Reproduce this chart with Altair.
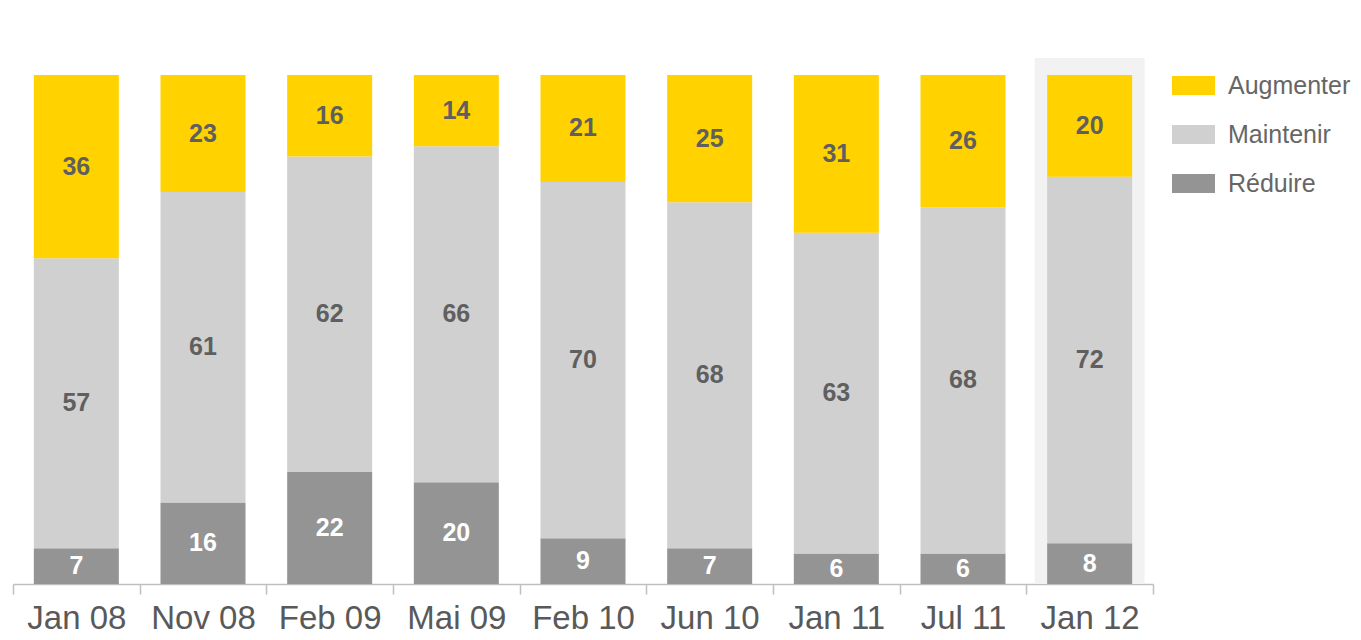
import altair as alt
import pandas as pd

periods = ["Jan 08", "Nov 08", "Feb 09", "Mai 09", "Feb 10", "Jun 10", "Jan 11", "Jul 11", "Jan 12"]
reduire = [7, 16, 22, 20, 9, 7, 6, 6, 8]
maintenir = [57, 61, 62, 66, 70, 68, 63, 68, 72]
augmenter = [36, 23, 16, 14, 21, 25, 31, 26, 20]
series_names = ["Augmenter", "Maintenir", "Réduire"]
series_colors = ["#FFD200", "#D0D0D0", "#949494"]
highlight_period = "Jan 12"

rows = []
for i, p in enumerate(periods):
    rows.append({"period": p, "series": "Réduire", "ord": 0, "value": reduire[i]})
    rows.append({"period": p, "series": "Maintenir", "ord": 1, "value": maintenir[i]})
    rows.append({"period": p, "series": "Augmenter", "ord": 2, "value": augmenter[i]})
df = pd.DataFrame(rows)

hl = pd.DataFrame({"period": [highlight_period], "lo": [0], "hi": [103.34]})

FONT = "Liberation Sans"
yscale = alt.Scale(domain=[0, 103.34], nice=False, zero=True)
xenc = alt.X(
    "period:N",
    sort=periods,
    scale=alt.Scale(paddingInner=0, paddingOuter=0),
    axis=alt.Axis(
        title=None,
        tickBand="extent",
        labelAngle=0,
        labelFont=FONT,
        labelFontSize=33,
        labelColor="#595959",
        domainColor="#BFBFBF",
        domainWidth=1.5,
        tickColor="#BFBFBF",
        tickWidth=1.5,
        tickSize=10,
        labelPadding=8,
        grid=False,
    ),
)

highlight = alt.Chart(hl).mark_bar(width={"band": 0.868}, color="#F2F2F2").encode(
    x=xenc,
    y=alt.Y("lo:Q", scale=yscale, axis=None),
    y2="hi:Q",
)

bars = alt.Chart(df).mark_bar(width={"band": 0.671}).encode(
    x=xenc,
    y=alt.Y("value:Q", stack="zero", scale=yscale, axis=None),
    color=alt.Color(
        "series:N",
        scale=alt.Scale(domain=series_names, range=series_colors),
        legend=alt.Legend(
            title=None,
            orient="none",
            legendX=1159,
            legendY=6,
            symbolType="M-1,-0.442H1V0.442H-1Z",
            symbolSize=1849,
            symbolStrokeWidth=0,
            symbolOpacity=1,
            labelFont=FONT,
            labelFontSize=25,
            labelColor="#666666",
            labelOffset=13,
            rowPadding=14,
            padding=0,
        ),
    ),
    order=alt.Order("ord:Q", sort="ascending"),
)

labels = alt.Chart(df).transform_stack(
    stack="value", groupby=["period"], sort=[alt.SortField("ord", order="ascending")], as_=["y0", "y1"]
).transform_calculate(mid="(datum.y0 + datum.y1) / 2").mark_text(
    font=FONT, fontSize=25, fontWeight="bold", baseline="middle", align="center"
).encode(
    x=xenc,
    y=alt.Y("mid:Q", scale=yscale, axis=None),
    text="value:Q",
    color=alt.condition(alt.datum.series == "Réduire", alt.value("#FFFFFF"), alt.value("#5F5F5F")),
)

chart = alt.layer(highlight, bars, labels).properties(
    width=1140,
    height=526,
    padding={"left": 4, "top": 50, "right": 0, "bottom": 0},
).configure(background="white").configure_view(stroke=None)

chart.save("out.html", embed_options={"renderer": "svg", "actions": False})
